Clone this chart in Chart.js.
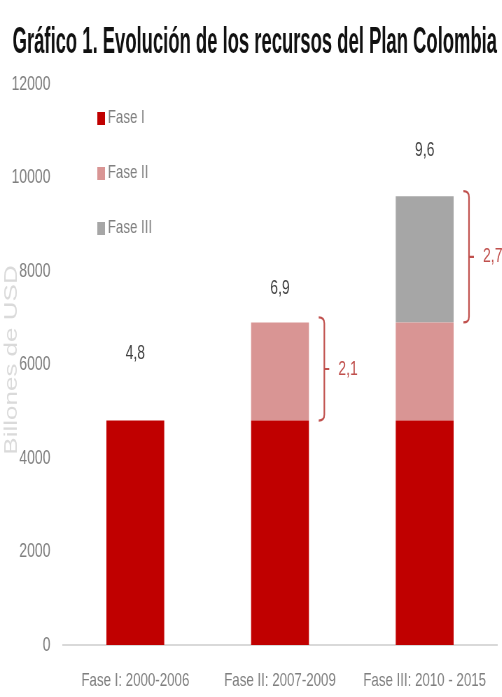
<!DOCTYPE html>
<html>
<head>
<meta charset="utf-8">
<script src="https://cdn.jsdelivr.net/npm/chart.js@4.4.0/dist/chart.umd.min.js"></script>
<style>
    html, body { margin: 0; padding: 0; background: #fff; overflow: hidden; }
    /* the reference is squeezed sideways, so the chart is drawn wide and squeezed */
    #wrap { width: 717px; height: 697px; transform: scaleX(0.7); transform-origin: 0 0; }
</style>
</head>
<body>
<div id="wrap"><canvas id="mainChart"></canvas></div>
<script>
const categories = ['Fase I: 2000-2006', 'Fase II: 2007-2009', 'Fase III: 2010 - 2015'];
const seriesNames = ['Fase I', 'Fase II', 'Fase III'];
const faseI = [4800, 4800, 4800];
const faseII = [0, 2100, 2100];
const faseIII = [0, 0, 2700];
const totalLabels = ['4,8', '6,9', '9,6'];
const stepLabels = [null, '2,1', '2,7'];
const yTicks = [0, 2000, 4000, 6000, 8000, 10000, 12000];

const titleText = 'Gráfico 1. Evolución de los recursos del Plan Colombia';
const yTitle = 'Billones de USD';
const colors = ['#c00000', '#d99594', '#a6a6a6'];
const bracketColor = '#c0504d';


// ---------------- Extras drawn by hand ----------------
const extras = {
    id: 'extras',
    afterDraw(chart) {
        const ctx = chart.ctx;
        const y = chart.scales.y;

        // title, fitted to its width
        ctx.save();
        ctx.font = 'bold 37px "Liberation Sans", Arial, sans-serif';
        ctx.fillStyle = '#111';
        ctx.textBaseline = 'middle';
        const w = ctx.measureText(titleText).width;
        const target = 692;
        ctx.translate(18, 43);
        ctx.scale(target / w, 1);
        ctx.fillText(titleText, 0, 0);
        ctx.restore();

        // y axis title
        ctx.save();
        ctx.font = '26px "Liberation Sans", Arial, sans-serif';
        ctx.fillStyle = '#dadada';
        ctx.textAlign = 'center';
        ctx.textBaseline = 'middle';
        ctx.translate(17, 360);
        ctx.rotate(-Math.PI / 2);
        ctx.fillText(yTitle, 0, 0);
        ctx.restore();

        // legend
        ctx.save();
        ctx.font = '19px "Liberation Sans", Arial, sans-serif';
        ctx.textBaseline = 'middle';
        chart.data.datasets.forEach((ds, i) => {
            const ly = 118 + i * 55;
            ctx.fillStyle = ds.backgroundColor;
            ctx.fillRect(139, ly - 6, 11, 13);
            ctx.fillStyle = '#808080';
            ctx.fillText(ds.label, 154, ly);
        });
        ctx.restore();

        // totals above bars
        const lift = [67, 34, 46];
        const meta0 = chart.getDatasetMeta(0);
        ctx.save();
        ctx.font = '20px "Liberation Sans", Arial, sans-serif';
        ctx.fillStyle = '#404040';
        ctx.textAlign = 'center';
        ctx.textBaseline = 'middle';
        categories.forEach((c, i) => {
            const total = faseI[i] + faseII[i] + faseIII[i];
            const bx = meta0.data[i].x;
            ctx.fillText(totalLabels[i], bx, y.getPixelForValue(total) - lift[i]);
        });
        ctx.restore();

        // brackets for the added phase
        ctx.save();
        ctx.strokeStyle = bracketColor;
        ctx.fillStyle = bracketColor;
        ctx.lineWidth = 2.2;
        ctx.font = '20px "Liberation Sans", Arial, sans-serif';
        ctx.textBaseline = 'middle';
        stepLabels.forEach((lab, i) => {
            if (!lab) return;
            const bar = meta0.data[i];
            const right = bar.x + bar.width / 2;
            const from = i === 1 ? faseI[i] : faseI[i] + faseII[i];
            const to = from + (i === 1 ? faseII[i] : faseIII[i]);
            const yTop = y.getPixelForValue(to) - 5;
            const yBot = y.getPixelForValue(from);
            const bx = right + 22;
            const mid = (yTop + yBot) / 2;
            ctx.beginPath();
            ctx.moveTo(bx - 8, yTop);
            ctx.quadraticCurveTo(bx, yTop, bx, yTop + 6);
            ctx.lineTo(bx, yBot - 6);
            ctx.quadraticCurveTo(bx, yBot, bx - 8, yBot);
            ctx.moveTo(bx, mid);
            ctx.lineTo(bx + 7, mid);
            ctx.stroke();
            ctx.fillText(lab, bx + 20, mid);
        });
        ctx.restore();
    }
};


// ---------------- Chart Init ----------------
function initChart() {
    const ctx = document.getElementById('mainChart').getContext('2d');
    const series = [faseI, faseII, faseIII];

    new Chart(ctx, {
        type: 'bar',
        data: {
            labels: categories,
            datasets: series.map((d, i) => ({
                label: seriesNames[i],
                data: d,
                backgroundColor: colors[i],
                barPercentage: 0.4,
                categoryPercentage: 1
            }))
        },
        options: {
            responsive: true,
            maintainAspectRatio: false,
            animation: false,
            layout: { padding: { top: 84, left: 10, right: 7, bottom: 0 } },
            plugins: { legend: { display: false }, tooltip: { enabled: false } },
            scales: {
                x: {
                    stacked: true,
                    afterFit: s => { s.height = 52; },
                    grid: { display: false },
                    border: { display: true, color: '#d9d9d9', width: 2 },
                    ticks: {
                        color: '#7f7f7f',
                        padding: 16,
                        maxRotation: 0,
                        autoSkip: false,
                        font: { family: '"Liberation Sans", Arial, sans-serif', size: 19 }
                    }
                },
                y: {
                    stacked: true,
                    min: 0,
                    max: 12000,
                    afterBuildTicks: s => { s.ticks = yTicks.map(v => ({ value: v })); },
                    afterFit: s => { s.width = 80; },
                    grid: { display: false, drawTicks: false },
                    border: { display: false },
                    ticks: {
                        color: '#7f7f7f',
                        padding: 18,
                        callback: v => String(v),
                        font: { family: '"Liberation Sans", Arial, sans-serif', size: 20 }
                    }
                }
            }
        },
        plugins: [extras]
    });
}

initChart();
</script>
</body>
</html>
